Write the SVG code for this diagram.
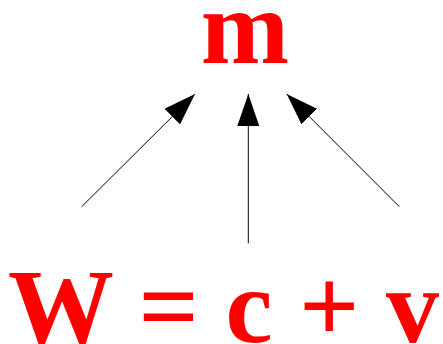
<svg xmlns="http://www.w3.org/2000/svg" width="443" height="344" viewBox="0 0 443 344">
<style>
.t{font-family:"Liberation Serif","Times New Roman",serif;font-weight:bold;fill:#ff0000;font-size:106px}
.c{stroke:#000;stroke-width:1;fill:none}
</style>
<defs>
<marker id="ah" markerUnits="userSpaceOnUse" viewBox="0 -11 32 22" refX="32" refY="0" markerWidth="32" markerHeight="22" orient="auto">
<path d="M0,-11 L32,0 L0,11 Z" fill="#000"/>
</marker>
</defs>
<rect width="443" height="344" fill="#fff"/>
<g id="connectors">
<line class="c" x1="81.7" y1="206.7" x2="195" y2="94" marker-end="url(#ah)"/>
<line class="c" x1="248.3" y1="243.3" x2="248.3" y2="94" marker-end="url(#ah)"/>
<line class="c" x1="399.3" y1="206.7" x2="286.7" y2="94" marker-end="url(#ah)"/>
</g>
<g id="node-m"><text class="t" x="245" y="63" text-anchor="middle">m</text></g>
<g id="node-eq"><text class="t" x="8" y="342">W = c + v</text></g>
</svg>
